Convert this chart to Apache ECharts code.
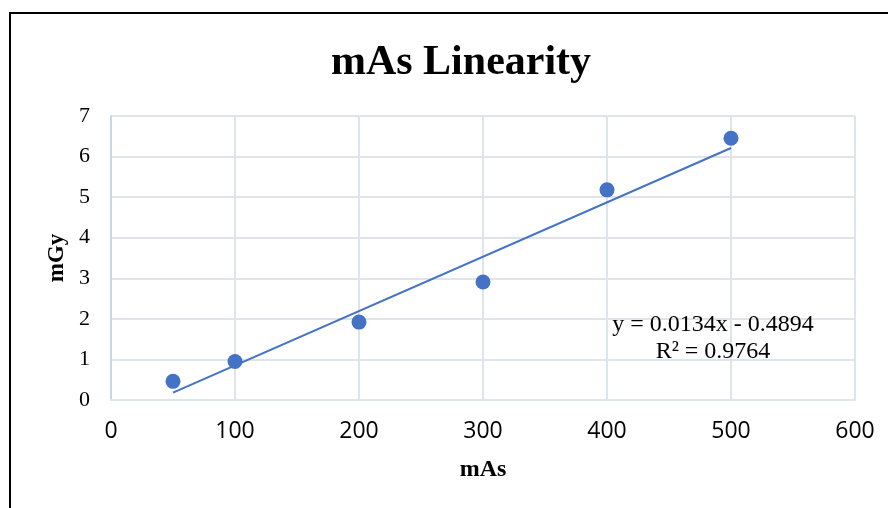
<!DOCTYPE html>
<html>
<head>
<meta charset="utf-8">
<script src="https://cdn.jsdelivr.net/npm/echarts@6/dist/echarts.min.js"></script>
<style>
    html, body { margin: 0; padding: 0; background: #fff; }
    #chart { width: 888px; height: 508px; }
</style>
</head>
<body>
<div id="chart"></div>
<script>
// 数据
const mAsValues = [50, 100, 200, 300, 400, 500];
const doseValues = [0.46, 0.95, 1.92, 2.91, 5.18, 6.45];
// 趋势线 (显示的方程)
const trendSlope = 0.0134;
const trendIntercept = -0.4894;
const trendLabel = ['y = 0.0134x - 0.4894', 'R² = 0.9764'];

const trendX = [mAsValues[0], mAsValues[mAsValues.length - 1]];
const trendData = trendX.map(x => [x, trendSlope * x + trendIntercept]);

const blue = '#4472C4';
const gridColor = '#dfe3ea';
const serif = '"Liberation Serif", "DejaVu Serif", serif';
const sans = '"Liberation Sans Narrow", "Open Sans", "Liberation Sans", sans-serif';

const chart = echarts.init(document.getElementById('chart'));

const option = {
    animation: false,
    title: {
        text: 'mAs Linearity',
        left: 456,
        top: 37,
        textAlign: 'center',
        textStyle: {
            fontFamily: serif,
            fontSize: 42,
            fontWeight: 'bold',
            color: '#000'
        }
    },
    grid: {
        left: 111,
        right: 33,
        top: 116,
        bottom: 108
    },
    xAxis: {
        type: 'value',
        min: 0,
        max: 600,
        interval: 100,
        name: 'mAs',
        nameLocation: 'middle',
        nameGap: 58,
        nameTextStyle: {
            fontFamily: serif,
            fontSize: 24,
            fontWeight: 'bold',
            color: '#000'
        },
        axisLine: { show: true, lineStyle: { color: gridColor, width: 2 } },
        axisTick: { show: false },
        axisLabel: {
            margin: 20,
            fontFamily: sans,
            fontSize: 23,
            color: '#000'
        },
        splitLine: { show: true, lineStyle: { color: gridColor, width: 2 } }
    },
    yAxis: {
        type: 'value',
        min: 0,
        max: 7,
        interval: 1,
        name: 'mGy',
        nameLocation: 'middle',
        nameGap: 41,
        nameTextStyle: {
            fontFamily: serif,
            fontSize: 23,
            fontWeight: 'bold',
            color: '#000'
        },
        axisLine: { show: true, lineStyle: { color: '#cfd6e3', width: 2 } },
        axisTick: { show: false },
        axisLabel: {
            margin: 21,
            fontFamily: serif,
            fontSize: 22,
            color: '#000'
        },
        splitLine: { show: true, lineStyle: { color: gridColor, width: 2 } }
    },
    graphic: [
        {
            type: 'rect',
            shape: { x: 10, y: 13, width: 900, height: 520 },
            style: { fill: 'none', stroke: '#000', lineWidth: 2 },
            z: 100
        },
        {
            type: 'text',
            x: 713,
            y: 311,
            style: {
                text: trendLabel.join('\n'),
                font: '24px ' + serif,
                fill: '#000',
                lineHeight: 27,
                align: 'center',
                verticalAlign: 'top'
            },
            z: 50
        }
    ],
    series: [
        {
            name: 'Trend',
            type: 'line',
            data: trendData,
            symbol: 'none',
            lineStyle: { color: blue, width: 2 },
            z: 2
        },
        {
            name: 'mGy',
            type: 'scatter',
            data: mAsValues.map((x, i) => [x, doseValues[i]]),
            symbolSize: 15,
            itemStyle: { color: blue, opacity: 1 },
            z: 3
        }
    ]
};

chart.setOption(option);
</script>
</body>
</html>
